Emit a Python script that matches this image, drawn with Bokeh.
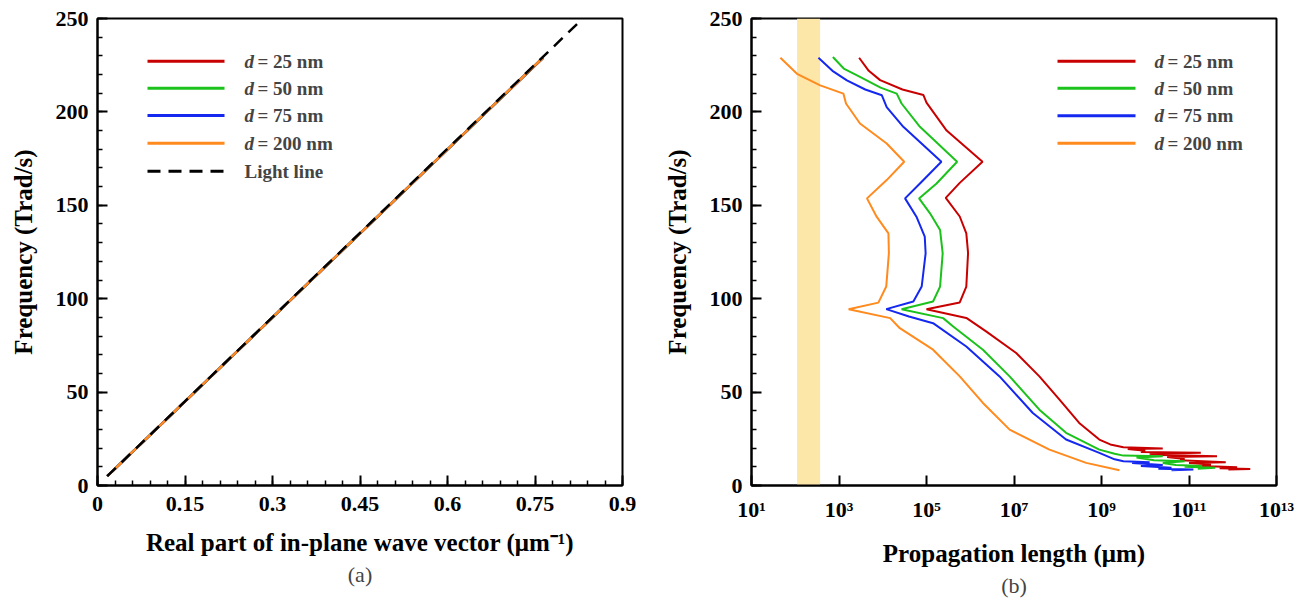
from bokeh.plotting import figure
from bokeh.layouts import row
from bokeh.models import FixedTicker, BoxAnnotation, Label, Arrow, Title
from bokeh.embed import file_html
from bokeh.resources import INLINE

FONT = "Liberation Serif"

# ---------------- Panel (a): dispersion ----------------
freq_a = [5, 50, 100, 150, 200, 229]
k_d25 = [0.0168, 0.1668, 0.3336, 0.5004, 0.6672, 0.7640]
k_d50 = [0.0167, 0.1667, 0.3335, 0.5002, 0.6670, 0.7637]
k_d75 = [0.0167, 0.1667, 0.3334, 0.5001, 0.6669, 0.7636]
k_d200 = [0.0167, 0.1667, 0.3334, 0.5001, 0.6668, 0.7635]
light_freq = [5, 250]
light_k = [0.0166, 0.832]

x_ticks_a = [0, 0.15, 0.3, 0.45, 0.6, 0.75, 0.9]
x_tick_labels_a = ["0", "0.15", "0.3", "0.45", "0.6", "0.75", "0.9"]
y_ticks = [0, 50, 100, 150, 200, 250]

# ---------------- Panel (b): propagation length ----------------
f_d25 = [229, 222, 217, 212, 209, 205, 190, 173.3, 162, 154, 144, 135, 124.5, 106.5, 98, 94.3,
         89.7, 82.4, 70.9, 58.4, 46, 33.5, 24.6, 22, 20.5, 19.8, 19.5, 18.6, 18, 17.5, 17,
         16.3, 15.7, 15.2, 14.2, 13.5, 12.5, 12, 11.2, 10.5, 9.8, 9.3, 8.8, 8.5]
logL_d25 = [3.46, 3.68, 3.94, 4.45, 4.93, 5.0, 5.46, 6.28, 5.76, 5.44, 5.76, 5.91, 5.95, 5.91, 5.76, 5.0,
            5.91, 6.37, 7.05, 7.58, 8.04, 8.49, 8.95, 9.2, 9.5, 10.4, 9.6, 10.0, 9.9, 11.27, 10.1,
            10.4, 11.64, 10.5, 10.9, 10.8, 11.84, 11.0, 11.5, 11.3, 12.1, 11.7, 12.4, 11.9]

f_d50 = [229.4, 223, 218.7, 213, 209.8, 204.5, 192, 173.3, 161.7, 153.7, 145.7, 136.8, 124.3, 106.5,
         98.5, 94.4, 89.6, 85.1, 72.7, 58.4, 40.6, 28.2, 19.2, 17, 16, 15.7, 15, 13.5, 13,
         12, 11, 10.5, 10, 9.5, 9]
logL_d50 = [2.86, 3.12, 3.48, 3.95, 4.32, 4.43, 4.85, 5.70, 5.23, 4.83, 5.08, 5.31, 5.37, 5.31,
            5.15, 4.43, 5.38, 5.61, 6.29, 6.90, 7.58, 8.19, 8.95, 9.3, 9.5, 10.4, 9.8, 10.2, 10.9,
            10.4, 10.7, 11.3, 10.9, 11.6, 11.2]

f_d75 = [229, 222, 216.9, 212, 208.9, 202.6, 192, 173.3, 161.7, 153.7, 143.9, 133.2, 124.3, 106.5,
         98.5, 94.4, 90.5, 86.9, 74.4, 58.4, 38.8, 24.6, 17.5, 14, 13, 12.5, 12, 11, 10.5,
         9.5, 9, 8.5, 8.2]
logL_d75 = [2.53, 2.85, 3.18, 3.6, 3.98, 4.09, 4.47, 5.34, 4.85, 4.51, 4.77, 4.96, 4.98, 4.89,
            4.70, 4.08, 4.6, 5.15, 5.91, 6.67, 7.43, 8.19, 8.95, 9.3, 9.5, 10.1, 9.7, 10.4, 9.9,
            10.6, 10.3, 11.1, 10.6]

f_d200 = [229, 220.4, 214.2, 209.8, 204.5, 193.8, 183.1, 173.3, 163.5, 153.7, 143.9, 135,
          124.3, 106.5, 97.9, 94.4, 89.6, 84.2, 72.7, 58.4, 44.2, 29.9, 19.2, 12.1, 8.2]
logL_d200 = [1.66, 2.04, 2.57, 3.10, 3.16, 3.48, 4.09, 4.49, 4.09, 3.64, 3.86, 4.13,
             4.14, 4.08, 3.90, 3.22, 4.17, 4.39, 5.15, 5.76, 6.29, 6.90, 7.81, 8.65, 9.41]

band_lo, band_hi = 110, 370

x_ticks_b = [1e1, 1e3, 1e5, 1e7, 1e9, 1e11, 1e13]
x_tick_labels_b = ["10¹", "10³", "10⁵", "10⁷", "10⁹", "10¹¹", "10¹³"]

series_labels = ["= 25 nm", "= 50 nm", "= 75 nm", "= 200 nm"]
colors = ["#C80000", "#1CC21C", "#1428F0", "#FF8A1E"]


def style(p):
    p.outline_line_color = "black"
    p.outline_line_width = 2
    p.grid.visible = False
    p.background_fill_color = "white"
    p.border_fill_color = "white"
    for ax in p.axis:
        ax.axis_line_width = 2
        ax.major_tick_in = 10
        ax.major_tick_out = 0
        ax.minor_tick_in = 5
        ax.minor_tick_out = 0
        ax.major_tick_line_width = 2
        ax.minor_tick_line_width = 1.5
        ax.major_label_text_font = FONT
        ax.major_label_text_font_style = "bold"
        ax.major_label_text_font_size = "22px"
        ax.major_label_text_color = "black"
        ax.axis_label_text_font = FONT
        ax.axis_label_text_font_style = "bold"
        ax.axis_label_text_font_size = "25px"
        ax.axis_label_text_color = "black"
    p.yaxis.ticker = FixedTicker(ticks=y_ticks, minor_ticks=list(range(0, 251, 10)))
    p.yaxis.major_label_standoff = 9
    p.yaxis.axis_label_standoff = 16
    p.xaxis.major_label_standoff = 11
    p.xaxis.axis_label_standoff = 15
    p.yaxis.axis_label = "Frequency (Trad/s)"


def add_legend(p, x0, x1, xt, ys, entries):
    for y, (color, dash, italic, tail) in zip(ys, entries):
        p.add_layout(Arrow(start=None, end=None, x_start=x0, y_start=y, x_end=x1, y_end=y,
                           start_units="screen", end_units="screen",
                           line_color=color, line_width=3, line_dash=dash))
        if italic:
            p.add_layout(Label(x=xt, y=y, x_units="screen", y_units="screen", text=italic,
                               text_font=FONT, text_font_style="bold italic",
                               text_font_size="19px", text_baseline="middle"))
            p.add_layout(Label(x=xt + 13, y=y, x_units="screen", y_units="screen", text=tail,
                               text_font=FONT, text_font_style="bold",
                               text_font_size="19px", text_baseline="middle"))
        else:
            p.add_layout(Label(x=xt, y=y, x_units="screen", y_units="screen", text=tail,
                               text_font=FONT, text_font_style="bold",
                               text_font_size="19px", text_baseline="middle"))


H = 600
BOTTOM = 115

# ---- figure (a)
pa = figure(width=647, height=H, x_range=(0, 0.9), y_range=(0, 250),
            output_backend="svg", toolbar_location=None,
            min_border_left=97, min_border_right=25, min_border_top=18, min_border_bottom=BOTTOM)
style(pa)
pa.xaxis.ticker = FixedTicker(ticks=x_ticks_a, minor_ticks=[i * 0.03 for i in range(31)])
pa.xaxis.major_label_overrides = dict(zip(x_ticks_a, x_tick_labels_a))
pa.xaxis.axis_label = "Real part of in-plane wave vector (μm⁻¹)"

for kk, c in zip([k_d25, k_d50, k_d75, k_d200], colors):
    pa.line(kk, freq_a, line_color=c, line_width=2.5)
pa.line(light_k, light_freq, line_color="black", line_width=2.5, line_dash="12 8")

add_legend(pa, 50, 127, 147, [424.3, 397.3, 370, 342.3, 314.3],
           [(colors[0], "solid", "d", series_labels[0]),
            (colors[1], "solid", "d", series_labels[1]),
            (colors[2], "solid", "d", series_labels[2]),
            (colors[3], "solid", "d", series_labels[3]),
            ("black", "13 8", None, "Light line")])
pa.add_layout(Title(text="(a)", align="center", text_font=FONT, text_font_size="22px",
                    text_font_style="normal", standoff=2), "below")

# ---- figure (b)
pb = figure(width=653, height=H, x_axis_type="log", x_range=(1e1, 1e13), y_range=(0, 250),
            output_backend="svg", toolbar_location=None,
            min_border_left=104, min_border_right=24, min_border_top=18, min_border_bottom=BOTTOM)
style(pb)
pb.xaxis.ticker = FixedTicker(ticks=x_ticks_b, minor_ticks=[])
pb.xaxis.major_label_overrides = dict(zip(x_ticks_b, x_tick_labels_b))
pb.xaxis.axis_label = "Propagation length (μm)"

pb.add_layout(BoxAnnotation(left=band_lo, right=band_hi, fill_color="#FCE6A8", fill_alpha=1,
                            line_alpha=0, level="underlay"))

for ff, ll, c in zip([f_d25, f_d50, f_d75, f_d200],
                     [logL_d25, logL_d50, logL_d75, logL_d200], colors):
    pb.line([10 ** v for v in ll], ff, line_color=c, line_width=2)

add_legend(pb, 306, 384, 403, [424.3, 397.3, 369.7, 342.3],
           [(colors[0], "solid", "d", series_labels[0]),
            (colors[1], "solid", "d", series_labels[1]),
            (colors[2], "solid", "d", series_labels[2]),
            (colors[3], "solid", "d", series_labels[3])])
pb.add_layout(Title(text="(b)", align="center", text_font=FONT, text_font_size="22px",
                    text_font_style="normal", standoff=2), "below")

layout = row(pa, pb)
open("out.html", "w").write(file_html(layout, INLINE))
